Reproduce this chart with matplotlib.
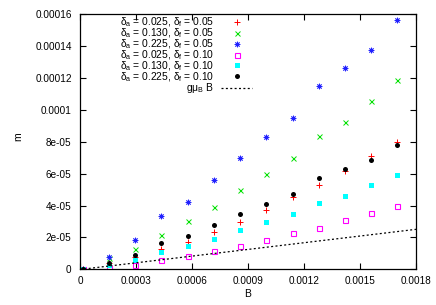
import matplotlib
matplotlib.use("Agg")
import matplotlib.pyplot as plt
from matplotlib.ticker import FixedLocator, FuncFormatter

plt.rcParams['font.family'] = ['Liberation Sans', 'DejaVu Sans']
plt.rcParams['mathtext.fontset'] = 'custom'
plt.rcParams['mathtext.rm'] = 'Liberation Sans'
plt.rcParams['mathtext.it'] = 'Liberation Sans'
plt.rcParams['mathtext.bf'] = 'Liberation Sans:bold'
plt.rcParams['font.size'] = 7.4

# ===== Data (m in units of 1e-5) =====
B = [0.000015, 0.000156, 0.000297, 0.000435, 0.000577, 0.000718, 0.000858,
     0.000998, 0.00114, 0.00128, 0.00142, 0.00156, 0.0017]

m_a025_f05 = [0, 0.38, 0.78, 1.26, 1.72, 2.33, 2.98, 3.74, 4.53, 5.26, 6.16, 7.09, 7.99]
m_a130_f05 = [0, 0.69, 1.26, 2.18, 3.05, 3.90, 4.95, 5.99, 6.99, 8.35, 9.24, 10.55, 11.86]
m_a225_f05 = [0, 0.80, 1.84, 3.32, 4.20, 5.62, 6.97, 8.26, 9.50, 11.49, 12.61, 13.70, 15.59]
m_a025_f10 = [0, 0.10, 0.28, 0.59, 0.82, 1.15, 1.47, 1.86, 2.26, 2.61, 3.07, 3.51, 3.96]
m_a130_f10 = [0, 0.25, 0.61, 1.09, 1.49, 1.92, 2.46, 2.98, 3.49, 4.18, 4.61, 5.26, 5.93]
m_a225_f10 = [0, 0.39, 0.89, 1.66, 2.07, 2.79, 3.47, 4.11, 4.74, 5.74, 6.30, 6.82, 7.78]

# g mu_B B reference line
line_B = [0, 0.0018]
line_m = [0, 2.51]

labels = [r'$\delta_a$ = 0.025, $\delta_f$ = 0.05',
          r'$\delta_a$ = 0.130, $\delta_f$ = 0.05',
          r'$\delta_a$ = 0.225, $\delta_f$ = 0.05',
          r'$\delta_a$ = 0.025, $\delta_f$ = 0.10',
          r'$\delta_a$ = 0.130, $\delta_f$ = 0.10',
          r'$\delta_a$ = 0.225, $\delta_f$ = 0.10']
line_label = r'g$\mu_B$ B'

xticks = [0, 0.0003, 0.0006, 0.0009, 0.0012, 0.0015, 0.0018]
yticks = [0, 2e-05, 4e-05, 6e-05, 8e-05, 0.0001, 0.00012, 0.00014, 0.00016]

# ===== Plot =====
fig = plt.figure(figsize=(4.36, 3.05), dpi=100)
ax = fig.add_axes([0.1835, 0.1164, 0.7706, 0.8393])

scale = 1e-5
series = [m_a025_f05, m_a130_f05, m_a225_f05, m_a025_f10, m_a130_f10, m_a225_f10]
styles = [
    dict(marker='+', color='#ff0000', ms=4.6, mew=0.7, ls='none'),
    dict(marker='x', color='#00e000', ms=3.6, mew=0.7, ls='none'),
    dict(marker=(8, 2, 0), color='#2020ff', ms=4.0, mew=0.6, ls='none'),
    dict(marker='s', mfc='none', mec='#ff00ff', ms=3.6, mew=0.8, ls='none'),
    dict(marker='s', color='#00ffff', ms=3.6, mew=0, ls='none'),
    dict(marker='o', color='black', ms=3.6, mew=0, ls='none'),
]
for vals, st, lab in zip(series, styles, labels):
    ax.plot(B, [v * scale for v in vals], label=lab, **st)

ax.plot(line_B, [v * scale for v in line_m], color='black', lw=0.9,
        ls=(0, (1.6, 1.9)), label=line_label)

ax.set_xlim(0, 0.0018)
ax.set_ylim(0, 0.00016)
ax.xaxis.set_major_locator(FixedLocator(xticks))
ax.yaxis.set_major_locator(FixedLocator(yticks))
fmt = FuncFormatter(lambda v, p: '%g' % v)
ax.xaxis.set_major_formatter(fmt)
ax.yaxis.set_major_formatter(fmt)
ax.tick_params(direction='in', length=4, width=0.8, top=True, right=True,
               labelsize=7.2)
ax.tick_params(axis='x', pad=5)
ax.tick_params(axis='y', pad=6)
for s in ax.spines.values():
    s.set_linewidth(0.9)

ax.set_xlabel('B', labelpad=2)
ax.set_ylabel('m')
ax.yaxis.set_label_coords(-0.168, 0.517)

ax.legend(loc='upper right', bbox_to_anchor=(0.518, 1.0), frameon=False,
          markerfirst=False, handlelength=3.0, handletextpad=0.7,
          labelspacing=-0.26, borderpad=0.2, borderaxespad=0.0,
          fontsize=7.4, numpoints=1)

fig.savefig('out.png', dpi=100)
